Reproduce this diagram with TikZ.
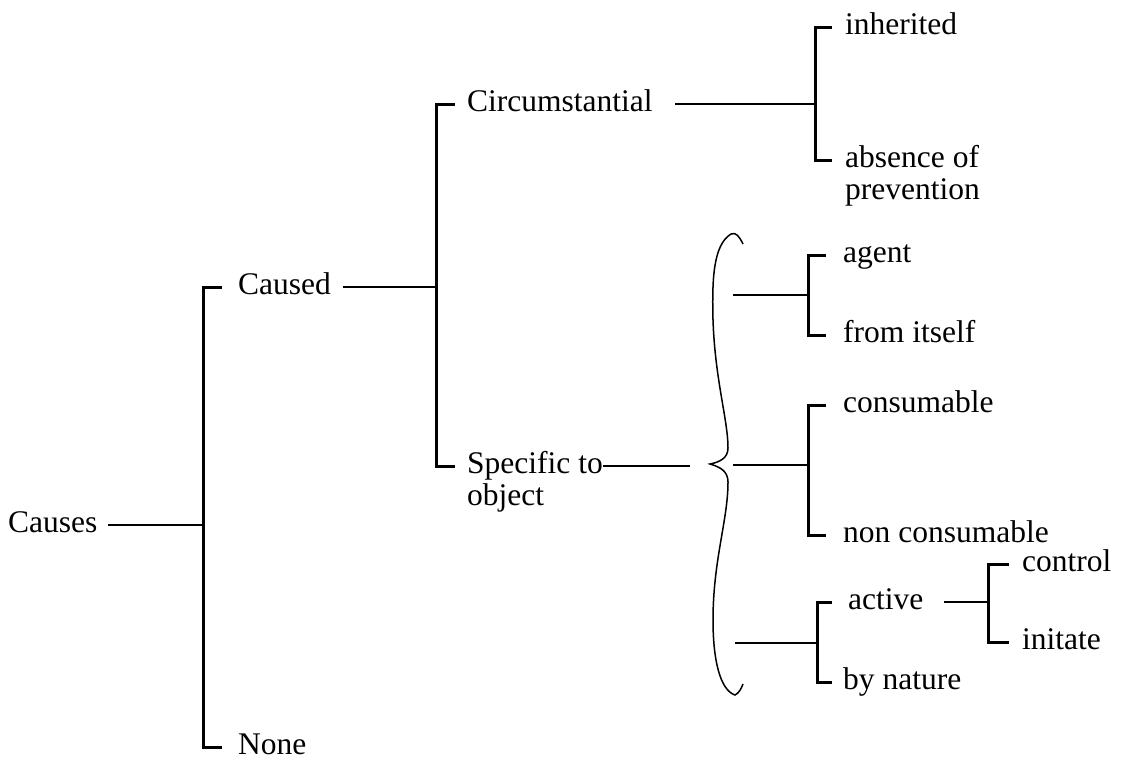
\documentclass[tikz,border=0pt]{standalone}
\usepackage{fontspec}
\newfontfamily\tmsfont{Liberation Serif}
\usepackage{tikz}
\usetikzlibrary{calc}

\begin{document}
\begin{tikzpicture}[
    x=1pt, y=-1pt,
    lbl/.style={anchor=west, inner sep=0pt, text height=21pt, text depth=6pt,
      font=\tmsfont\fontsize{31.5}{36}\selectfont},
    ln/.style={line width=2.4pt, line cap=butt},
    brk/.style={line width=3pt, line join=miter},
    bracecurve/.style={line width=1.5pt},
  ]
  \useasboundingbox (0,0) rectangle (1123,764);
  \def\gap{16}

  % ========= ROOT =========
  \node[lbl] (causes) at (8,525) {Causes};
  \node[lbl] (caused) at (238,287) {Caused};
  \node[lbl] (none) at (238,747) {None};
  \coordinate (sp1) at (203,525);
  \draw[ln] ([xshift=10]causes.east) -- (sp1);
  \draw[brk] ([xshift=-\gap]caused.west) -| (sp1) |- ([xshift=-\gap]none.west);

  % ========= CAUSED =========
  \node[lbl] (circ) at (467,104) {Circumstantial};
  \node[lbl] (spec) at (467,466) {Specific to};
  \node[lbl] (obj) at (467,498) {object};
  \coordinate (sp2) at (436,287);
  \draw[ln] ([xshift=12]caused.east) -- (sp2);
  \draw[brk] ([xshift=-12]circ.west) -| (sp2) |- ([xshift=-12]spec.west);

  % Circumstantial
  \node[lbl] (inher) at (845,27) {inherited};
  \node[lbl] (absence) at (845,160) {absence of};
  \node[lbl] (prev) at (845,192) {prevention};
  \coordinate (sp3) at (815,104);
  \draw[ln] ([xshift=22]circ.east) -- (sp3);
  \draw[brk] ([xshift=-13]inher.west) -| (sp3) |- ([xshift=-13]absence.west);

  % ========= SPECIFIC TO OBJECT =========
  \coordinate (bstart) at (690,466);
  \draw[ln] (spec.east) -- (bstart);

  % Brace
  \draw[bracecurve] (743,244) .. controls (739,236) and (736,232) .. (731,234)
    .. controls (713,245) and (712,280) .. (713,320)
    .. controls (715,380) and (728,420) .. (728,448)
    .. controls (728,458) and (720,462) .. (710,464)
    .. controls (720,467) and (728,471) .. (728,482)
    .. controls (728,520) and (713,560) .. (713,620)
    .. controls (713,660) and (720,690) .. (735,695)
    .. controls (739,693) and (741,689) .. (743,684);

  % agent / from itself
  \node[lbl] (agent) at (843,255) {agent};
  \node[lbl] (itself) at (843,335) {from itself};
  \coordinate (ba) at (733,295);
  \coordinate (sp4) at (808,295);
  \draw[ln] (ba) -- (sp4);
  \draw[brk] ([xshift=-17]agent.west) -| (sp4) |- ([xshift=-17]itself.west);

  % consumable
  \node[lbl] (cons) at (843,405) {consumable};
  \node[lbl] (noncons) at (843,535) {non consumable};
  \coordinate (bb) at (733,465);
  \coordinate (sp5) at (808,465);
  \draw[ln] (bb) -- (sp5);
  \draw[brk] ([xshift=-17]cons.west) -| (sp5) |- ([xshift=-17]noncons.west);

  % active / by nature
  \node[lbl] (active) at (848,602) {active};
  \node[lbl] (nature) at (843,682) {by nature};
  \coordinate (bc) at (735,643);
  \coordinate (sp6) at (817,643);
  \draw[ln] (bc) -- (sp6);
  \draw[brk] ([xshift=-16]active.west) -| (sp6) |- ([xshift=-11]nature.west);

  % control / initate
  \node[lbl] (control) at (1022,564) {control};
  \node[lbl] (initate) at (1022,642) {initate};
  \coordinate (sp7) at (988,602);
  \draw[ln] ([xshift=20]active.east) -- (sp7);
  \draw[brk] ([xshift=-13]control.west) -| (sp7) |- ([xshift=-13]initate.west);
\end{tikzpicture}
\end{document}
